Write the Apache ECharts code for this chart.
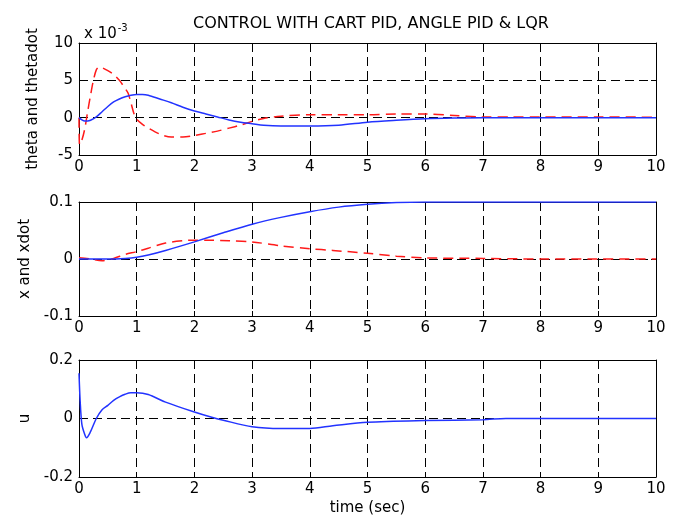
<!DOCTYPE html>
<html>
<head>
<meta charset="utf-8">
<script src="https://cdn.jsdelivr.net/npm/echarts@6/dist/echarts.min.js"></script>
<style>html,body{margin:0;padding:0;background:#fff}#c{width:675px;height:519px}</style>
</head>
<body>
<div id="c"></div>
<script>
// ---- data ----
var xTicks = [0,1,2,3,4,5,6,7,8,9,10];

// plot 1 : theta & thetadot (units of 1e-3)
var thetaT = [0,0.05,0.1,0.15,0.2,0.3,0.4,0.5,0.6,0.7,0.8,0.9,1.0,1.1,1.2,1.4,1.6,1.8,2.0,2.2,2.4,2.6,2.8,3.0,3.2,3.5,4.0,4.5,5.0,5.5,6.0,6.5,7.0,8,9,10];
var thetaV = [0,-0.3,-0.45,-0.45,-0.35,0.1,0.8,1.5,2.1,2.5,2.8,3.0,3.1,3.1,3.0,2.5,2.0,1.4,0.9,0.5,0.1,-0.3,-0.6,-0.8,-1.0,-1.1,-1.1,-1.0,-0.6,-0.35,-0.15,-0.05,0,0,0,0];
var thetadotT = [0,0.01,0.05,0.1,0.15,0.2,0.25,0.3,0.35,0.4,0.5,0.6,0.7,0.8,0.85,0.9,0.95,1.0,1.1,1.2,1.4,1.6,1.8,2.0,2.2,2.4,2.6,2.8,3.0,3.2,3.5,4.0,4.5,5.0,5.5,6.0,6.5,7.0,7.5,8,9,10];
var thetadotV = [0,-3.6,-3.0,-1.5,0.8,3.0,5.0,6.4,6.8,6.7,6.3,5.8,5.0,3.9,3.3,2.0,0.6,-0.2,-0.9,-1.4,-2.2,-2.6,-2.6,-2.4,-2.1,-1.8,-1.4,-1.0,-0.5,-0.1,0.2,0.4,0.4,0.4,0.5,0.5,0.3,0.1,0.1,0.1,0.1,0.05];

// plot 2 : x & xdot
var xT = [0,0.5,0.8,1.0,1.2,1.5,2.0,2.5,3.0,3.5,4.0,4.5,5.0,5.5,6.0,7,8,9,10];
var xV = [0,0,0.001,0.003,0.007,0.015,0.030,0.046,0.061,0.073,0.083,0.091,0.096,0.099,0.100,0.100,0.100,0.100,0.100];
var xdotT = [0,0.2,0.4,0.6,0.8,1.0,1.2,1.5,1.8,2.0,2.3,2.6,3.0,3.5,4.0,4.4,5.0,5.5,6.0,7.0,8,9,10];
var xdotV = [0.002,0,-0.003,0.001,0.008,0.013,0.019,0.028,0.032,0.033,0.033,0.032,0.030,0.023,0.018,0.015,0.010,0.005,0.002,0.001,0,0,0];

// plot 3 : u
var uT = [0,0.02,0.05,0.1,0.13,0.2,0.3,0.4,0.5,0.6,0.7,0.8,0.9,1.0,1.2,1.5,2.0,2.3,2.5,3.0,3.5,4.0,4.4,5.0,6.0,7.0,7.4,8,9,10];
var uV = [0.155,0.06,-0.02,-0.055,-0.066,-0.045,0.0,0.03,0.045,0.062,0.074,0.083,0.088,0.088,0.082,0.056,0.022,0.004,-0.006,-0.028,-0.034,-0.034,-0.025,-0.013,-0.007,-0.004,0,0,0,0];

var yTicks1 = [-5,0,5,10];
var yTicks2 = [-0.1,0,0.1];
var yTicks3 = [-0.2,0,0.2];

// ---- chart ----
function zip(t,v){ return t.map(function(x,i){ return [x, v[i]]; }); }
var FONT = 'DejaVu Sans';
var grids = [
  {left:79, top:43, width:577, height:112},
  {left:79, top:202, width:577, height:114},
  {left:79, top:360, width:577, height:117}
];
var gridLine = {show:true, lineStyle:{color:'#000', width:1, type:[9,5]}};
var axisLine = {show:true, onZero:false, lineStyle:{color:'#000', width:1}};
var tick = {show:true, inside:true, length:5, lineStyle:{color:'#000'}};
var lbl = {color:'#000', fontFamily:FONT, fontSize:15};

var xAxes = [], yAxes = [];
var yDefs = [
  {ticks:yTicks1, name:'theta and thetadot'},
  {ticks:yTicks2, name:'x and xdot'},
  {ticks:yTicks3, name:'u'}
];
for (var g=0; g<3; g++){
  var tk = yDefs[g].ticks;
  var iv = tk[1]-tk[0];
  xAxes.push({type:'value', gridIndex:g, min:xTicks[0], max:xTicks[xTicks.length-1], interval:1,
    axisLine:axisLine, axisTick:tick, splitLine:gridLine,
    axisLabel:Object.assign({margin:5}, lbl),
    name: g===2 ? 'time (sec)' : '', nameLocation:'middle', nameGap:24,
    nameTextStyle:{color:'#000', fontFamily:FONT, fontSize:15}});
  xAxes.push({type:'value', gridIndex:g, position:'top', min:xTicks[0], max:xTicks[xTicks.length-1], interval:1,
    axisLine:axisLine, axisTick:tick, splitLine:{show:false}, axisLabel:{show:false}});
  yAxes.push({type:'value', gridIndex:g, min:tk[0], max:tk[tk.length-1], interval:iv,
    axisLine:axisLine, axisTick:tick, splitLine:gridLine,
    axisLabel:Object.assign({margin:6}, lbl),
    name:yDefs[g].name, nameLocation:'middle', nameGap:38, nameRotate:90,
    nameTextStyle:{color:'#000', fontFamily:FONT, fontSize:15}});
  yAxes.push({type:'value', gridIndex:g, position:'right', min:tk[0], max:tk[tk.length-1], interval:iv,
    axisLine:axisLine, axisTick:tick, splitLine:{show:false}, axisLabel:{show:false}});
}

var blue = {color:'#2233ff', width:1.5, type:'solid'};
var red = {color:'#ff1a1a', width:1.5, type:[10,6]};
function line(xi, yi, data, style, z){
  return {type:'line', xAxisIndex:xi, yAxisIndex:yi, data:data, showSymbol:false, symbol:'none',
    smooth:0.3, lineStyle:style, z:z, animation:false};
}

var chart = echarts.init(document.getElementById('c'), null, {renderer:'canvas'});
chart.setOption({
  animation:false,
  backgroundColor:'#fff',
  title:[
    {text:'CONTROL WITH CART PID, ANGLE PID & LQR', left:366, top:11, textAlign:'center',
     textStyle:{color:'#000', fontFamily:FONT, fontSize:16, fontWeight:'normal'}},
    {text:'x 10{s|-3}', left:79, top:18,
     textStyle:{color:'#000', fontFamily:FONT, fontSize:15, fontWeight:'normal',
       rich:{s:{fontSize:10, fontFamily:FONT, color:'#000', verticalAlign:'top', padding:[0,0,12,1]}}}}
  ],
  grid:grids,
  xAxis:xAxes,
  yAxis:yAxes,
  series:[
    line(0,0,zip(thetadotT,thetadotV),red,3),
    line(0,0,zip(thetaT,thetaV),blue,4),
    line(2,2,zip(xdotT,xdotV),red,3),
    line(2,2,zip(xT,xV),blue,4),
    line(4,4,zip(uT,uV),blue,4)
  ]
});
</script>
</body>
</html>
